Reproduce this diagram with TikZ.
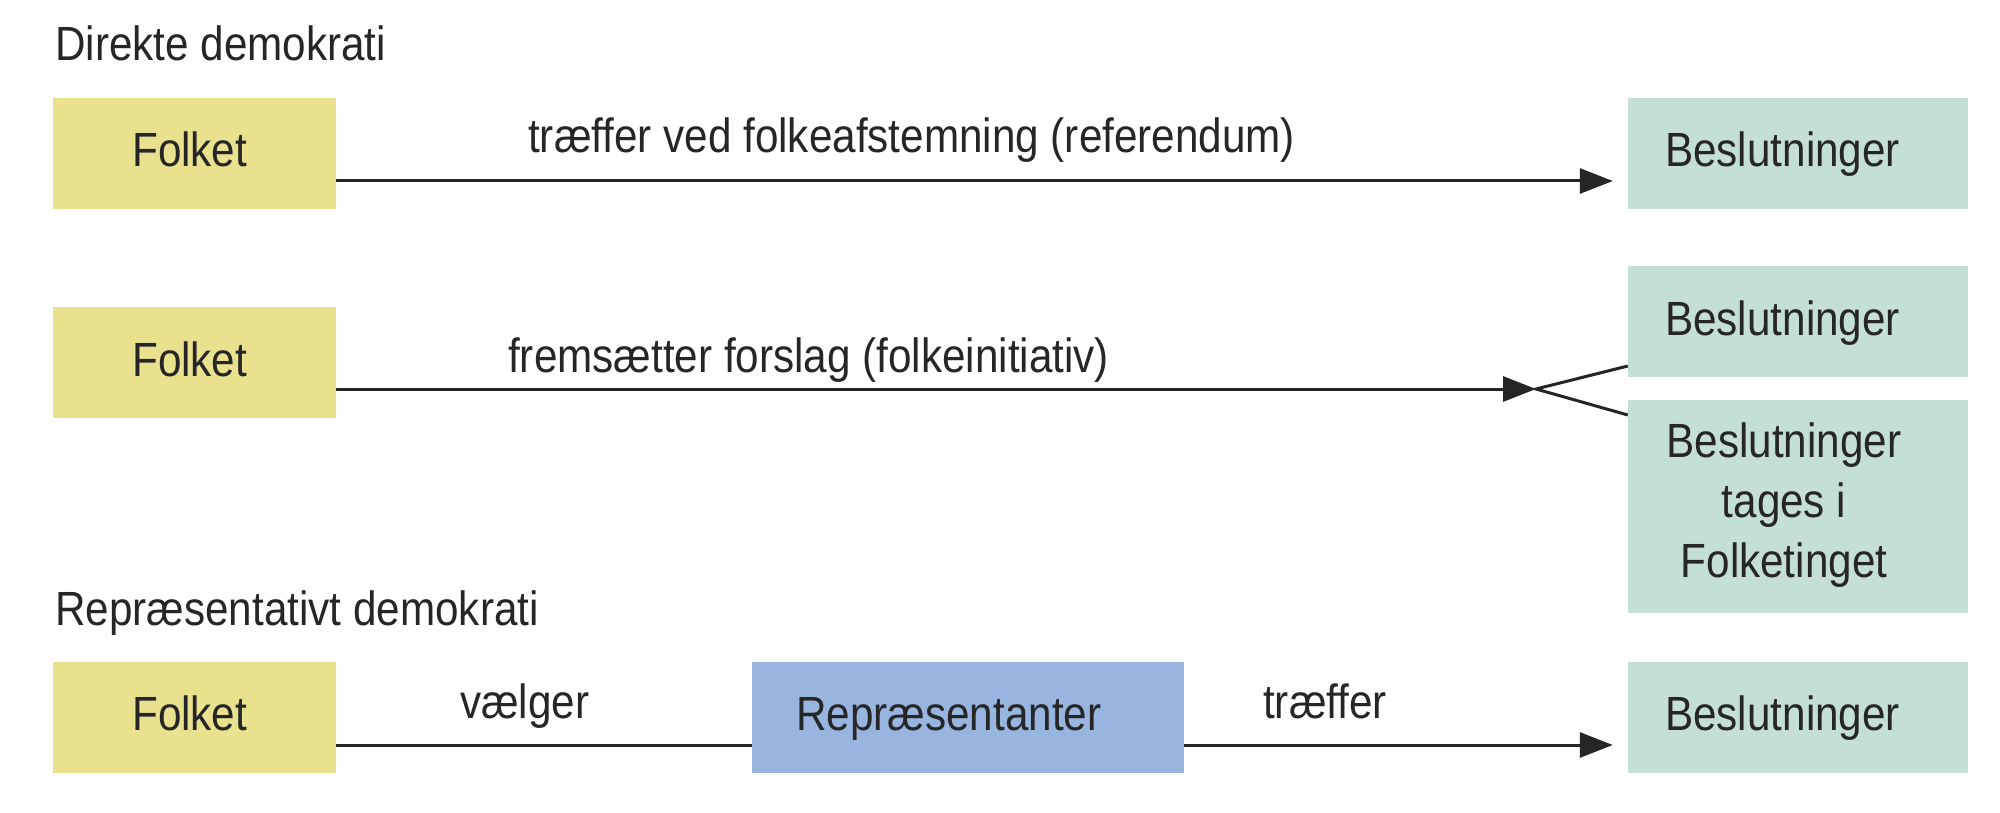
\documentclass[tikz,border=0pt]{standalone}
\usepackage{fontspec}
\setmainfont{Liberation Sans}[FakeStretch=0.88]
\usetikzlibrary{arrows.meta}
\definecolor{ybox}{HTML}{E9E18E}
\definecolor{gbox}{HTML}{C4DFD5}
\definecolor{bbox}{HTML}{98B5DF}
\definecolor{ink}{HTML}{262626}
\tikzset{
  boxbase/.style={draw=none, inner sep=0pt, minimum height=111pt},
  folkbox/.style={boxbase, fill=ybox, minimum width=283pt},
  besbox/.style={boxbase, fill=gbox, minimum width=340pt},
  repbox/.style={boxbase, fill=bbox, minimum width=432pt},
  txt/.style={inner sep=0pt, text=ink, font=\fontsize{48}{60}\selectfont},
  ttl/.style={txt},
  conn/.style={draw=ink, line width=3pt},
  arr/.style={conn, -{Triangle[length=33pt,width=25pt]}}
}
\begin{document}
\begin{tikzpicture}[x=1pt, y={(0pt,-1pt)}]
\useasboundingbox[fill=white] (0,0) rectangle (2000,813);
% titles
\node[ttl, anchor=base west] (t1) at (55,61) {Direkte demokrati};
\node[ttl, anchor=base west] (t2) at (55,625) {Repræsentativt demokrati};
% row 1
\node[folkbox] (f1) at (194.5,153.5) {};
\node[txt, anchor=base west] (f1t) at (132,167) {Folket};
\node[besbox] (b1) at (1798,153.5) {};
\node[txt, anchor=base west] (b1t) at (1665,167) {Beslutninger};
\draw[arr] ([yshift=-27.5pt]f1.east) -- ([xshift=-15pt,yshift=-27.5pt]b1.west);
\node[txt, anchor=base west] (l1) at (528,153) {træffer ved folkeafstemning (referendum)};
% row 2
\node[folkbox] (f2) at (194.5,362.5) {};
\node[txt, anchor=base west] (f2t) at (132,376) {Folket};
\node[besbox] (b2) at (1798,321.5) {};
\node[txt, anchor=base west] (b2t) at (1665,335) {Beslutninger};
\node[besbox, minimum height=213pt] (b3) at (1798,506.5) {};
\node[txt, anchor=base, align=center] (b3t) at (1784,577) {Beslutninger\\tages i\\Folketinget};
\coordinate (fork) at (1536,389);
\draw[arr] ([yshift=-26.5pt]f2.east) -- (fork);
\draw[conn] ([yshift=-44.5pt]b2.west) -- (fork) -- ([yshift=91.5pt]b3.west);
\node[txt, anchor=base west] (l2) at (508,372) {fremsætter forslag (folkeinitiativ)};
% row 3
\node[folkbox] (f3) at (194.5,717) {};
\node[txt, anchor=base west] (f3t) at (132,730) {Folket};
\node[repbox] (r3) at (968,717) {};
\node[txt, anchor=base west] (r3t) at (796,730) {Repræsentanter};
\node[besbox] (b4) at (1798,717) {};
\node[txt, anchor=base west] (b4t) at (1665,730) {Beslutninger};
\draw[conn] ([yshift=-28pt]f3.east) -- ([yshift=-28pt]r3.west);
\draw[arr] ([yshift=-28pt]r3.east) -- ([xshift=-15pt,yshift=-28pt]b4.west);
\node[txt, anchor=base west] (l3) at (460,718) {vælger};
\node[txt, anchor=base west] (l4) at (1263,718) {træffer};
\end{tikzpicture}
\end{document}
